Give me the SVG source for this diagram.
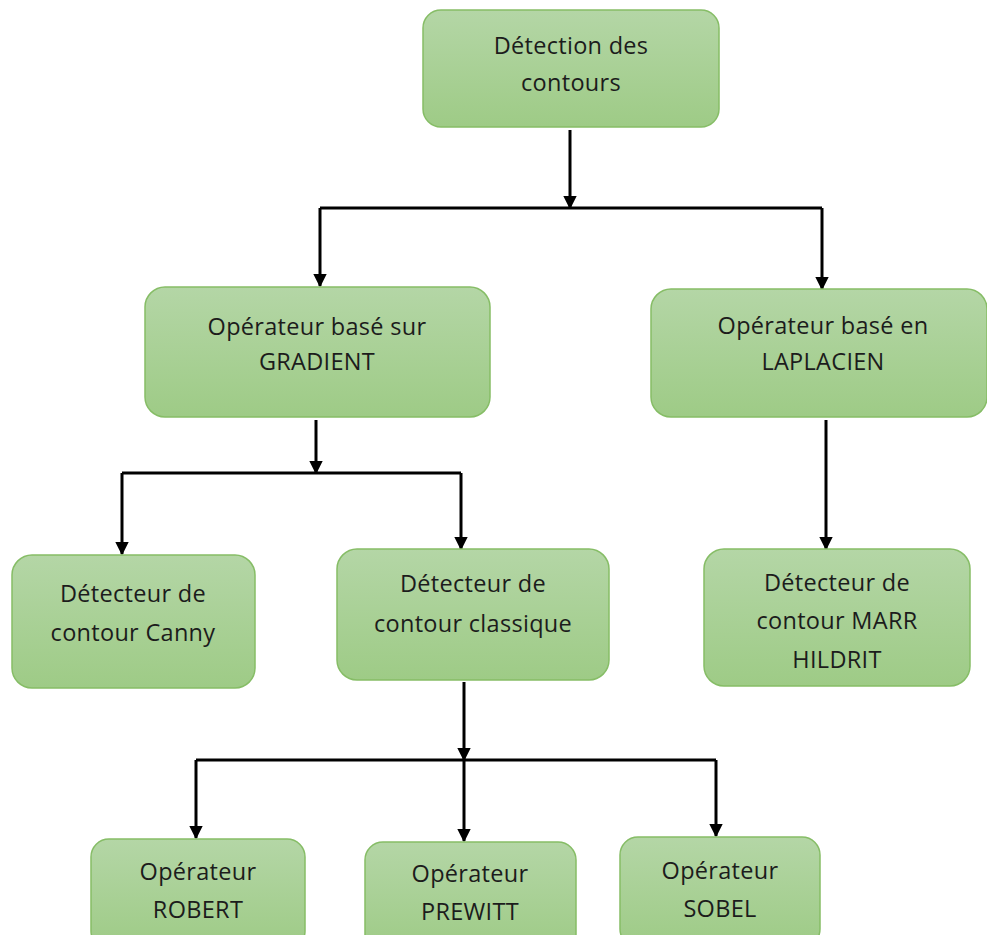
<svg xmlns="http://www.w3.org/2000/svg" width="987" height="935" viewBox="0 0 987 935">
<defs>
<linearGradient id="g" x1="0" y1="0" x2="0" y2="1">
<stop offset="0" stop-color="#b4d6a6"/>
<stop offset="1" stop-color="#9ecb86"/>
</linearGradient>
<marker id="ah" viewBox="0 0 10 10" refX="9" refY="5" markerWidth="4.5" markerHeight="4.5" orient="auto" markerUnits="strokeWidth">
<path d="M0,0 L10,5 L0,10 Z" fill="#000"/>
</marker>
<style>
.n rect{fill:url(#g);stroke:#86bd66;stroke-width:1.5}
.n text{font-family:"Open Sans","Liberation Sans",sans-serif;font-size:23.5px;fill:#1c1c1c;text-anchor:middle;letter-spacing:0.3px}
.c path{fill:none;stroke:#000;stroke-width:3}
.c path.a{marker-end:url(#ah)}
</style>
</defs>
<rect width="987" height="935" fill="#fff"/>
<g class="c">
<path class="a" d="M570,130 V208"/>
<path d="M320,208 H822"/>
<path class="a" d="M320,208 V286"/>
<path class="a" d="M822,208 V289"/>
<path class="a" d="M316,420 V473"/>
<path d="M122,473 H461"/>
<path class="a" d="M122,473 V554"/>
<path class="a" d="M461,473 V549"/>
<path class="a" d="M826,420 V549"/>
<path class="a" d="M464,682 V760"/>
<path d="M196,760 H716"/>
<path class="a" d="M196,760 V838"/>
<path class="a" d="M464,760 V841"/>
<path class="a" d="M716,760 V836"/>
</g>
<g id="n1" class="n"><rect x="423" y="10" width="296" height="117" rx="18"/><text x="571" y="54">Détection des</text><text x="571" y="91">contours</text></g>
<g id="n2" class="n"><rect x="145" y="287" width="345" height="130" rx="20"/><text x="317" y="335">Opérateur basé sur</text><text x="317" y="370">GRADIENT</text></g>
<g id="n3" class="n"><rect x="651" y="289" width="336" height="128" rx="20"/><text x="823" y="334">Opérateur basé en</text><text x="823" y="370">LAPLACIEN</text></g>
<g id="n4" class="n"><rect x="12" y="555" width="243" height="133" rx="20"/><text x="133" y="602">Détecteur de</text><text x="133" y="641">contour Canny</text></g>
<g id="n5" class="n"><rect x="337" y="549" width="272" height="131" rx="20"/><text x="473" y="592">Détecteur de</text><text x="473" y="632">contour classique</text></g>
<g id="n6" class="n"><rect x="704" y="549" width="266" height="137" rx="20"/><text x="837" y="591">Détecteur de</text><text x="837" y="629">contour MARR</text><text x="837" y="668">HILDRIT</text></g>
<g id="n7" class="n"><rect x="91" y="839" width="214" height="110" rx="18"/><text x="198" y="880">Opérateur</text><text x="198" y="918">ROBERT</text></g>
<g id="n8" class="n"><rect x="365" y="842" width="211" height="110" rx="18"/><text x="470" y="882">Opérateur</text><text x="470" y="920">PREWITT</text></g>
<g id="n9" class="n"><rect x="620" y="837" width="200" height="110" rx="18"/><text x="720" y="879">Opérateur</text><text x="720" y="917">SOBEL</text></g>
</svg>
